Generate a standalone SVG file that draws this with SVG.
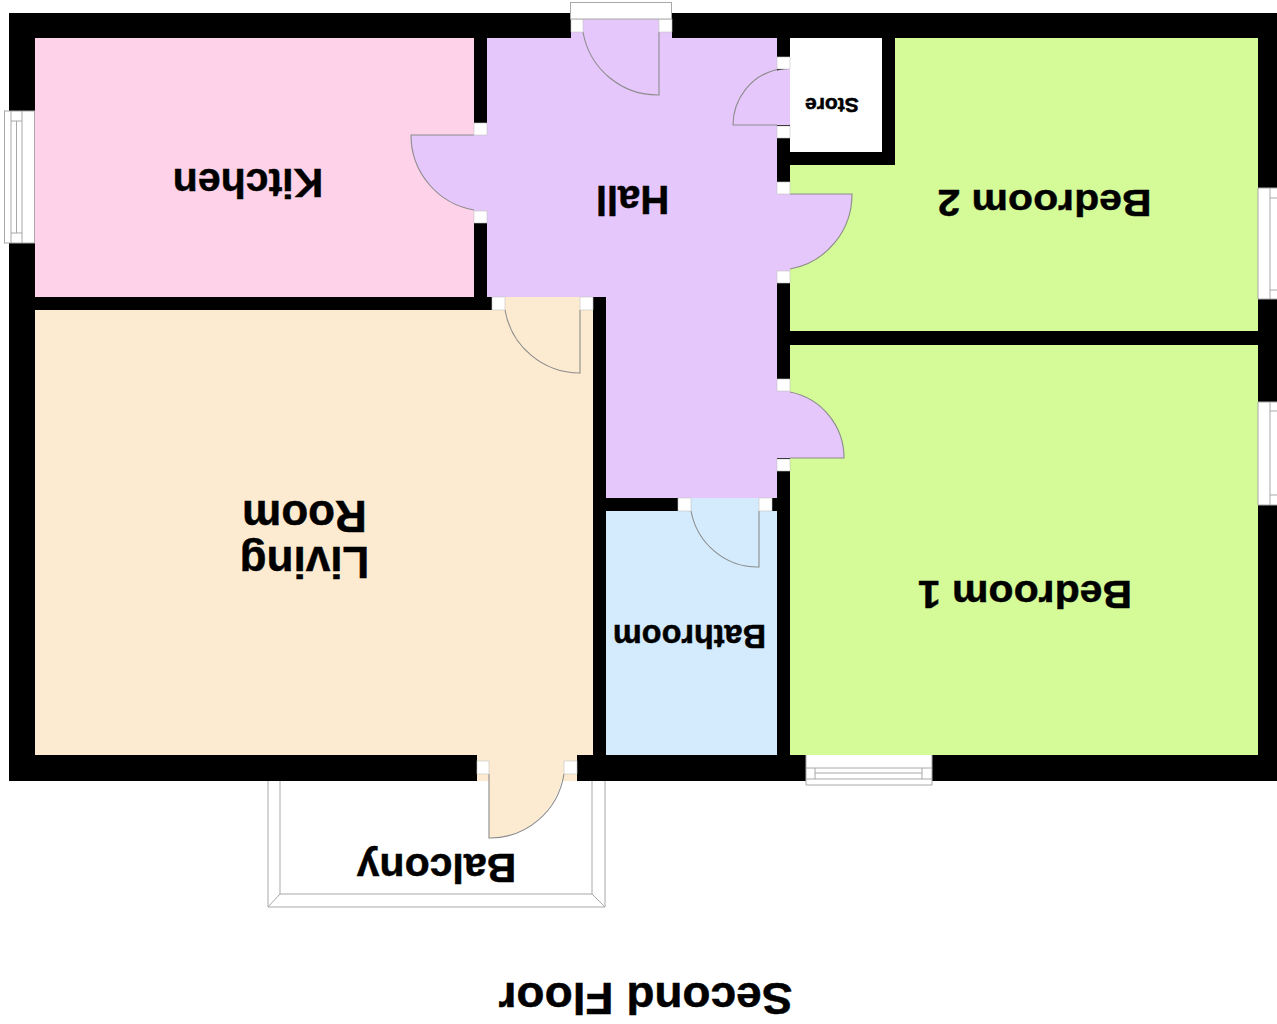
<svg xmlns="http://www.w3.org/2000/svg" width="1277" height="1024" viewBox="0 0 1277 1024">
<defs>
<style>
.wall{fill:#000}
.kitchen{fill:#fed3e9}
.living{fill:#fdebd1}
.hall{fill:#e6c7fb}
.bath{fill:#d3ebfc}
.bed{fill:#d4fb98}
.store{fill:#fff}
.door{fill:none;stroke:#8c8c8c;stroke-width:1.1}
.jamb{fill:#fff;stroke:#c4c4c4;stroke-width:.6}
.win{fill:#fff;stroke:#a8a8a8;stroke-width:1}
.ln{fill:none;stroke:#a8a8a8;stroke-width:1}
text{font-family:"Liberation Sans",Arial,sans-serif;font-weight:700;fill:#000;stroke:#000;stroke-width:.5;text-anchor:middle}
</style>
</defs>
<rect width="1277" height="1024" fill="#fff"/>
<g id="balcony">
<path class="ln" d="M268 781V907H605V781M280 781V894H592V781M268 907L280 894M605 907L592 894"/>
</g>
<rect id="walls" class="wall" x="9" y="13" width="1268" height="768"/>
<g id="kitchen"><rect class="kitchen" x="35" y="38" width="439" height="259"/></g>
<g id="living-room">
<rect class="living" x="35" y="310" width="558" height="445"/>
<path class="living" d="M505 297H580V373A76 76 0 0 1 505 310Z"/>
<path class="door" d="M580 310V373A76 76 0 0 1 505 310"/>
<path class="living" d="M477 755H577V781H477Z"/>
<path class="living" d="M489 755V838A75 76 0 0 0 564 762V755Z"/>
<path class="door" d="M489 774V838A75 76 0 0 0 564 774"/>
</g>
<g id="bathroom">
<rect class="bath" x="606" y="511" width="171" height="244"/>
<path class="bath" d="M691 498H759V567A68 69 0 0 1 691 511Z"/>
<path class="door" d="M759 511V567A68 69 0 0 1 691 511"/>
</g>
<g id="bedroom-2">
<path class="bed" d="M895 38H1258V331H790V165H895Z"/>
</g>
<g id="bedroom-1">
<rect class="bed" x="790" y="345" width="468" height="410"/>
</g>
<g id="store"><rect class="store" x="790" y="38" width="92" height="114"/></g>
<g id="hall">
<path class="hall" d="M487 38H777V498H606V297H487Z"/>
<rect class="hall" x="571" y="19" width="101" height="20"/>
<path class="hall" d="M659 19V95A76 76 0 0 1 583 19Z"/>
<path class="door" d="M659 32V95A76 76 0 0 1 583 32"/>
<path class="hall" d="M488 135H411A76 76 0 0 0 474 210V211H488Z"/>
<path class="door" d="M474 135H411A76 76 0 0 0 474 210"/>
<path class="hall" d="M790 125H733A57 57 0 0 1 790 69Z"/>
<path class="door" d="M777 125H733A57 57 0 0 1 777 69.500"/>
<path class="hall" d="M776 194H852A75 76 0 0 1 790 269V271H776Z"/>
<path class="door" d="M790 194H852A75 76 0 0 1 790 269"/>
<path class="hall" d="M776 458H844A67 67 0 0 0 790 392V391H776Z"/>
<path class="door" d="M790 458H844A67 67 0 0 0 790 392"/>
</g>
<g id="door-jambs">
<rect class="jamb" x="571" y="19" width="12" height="13"/>
<rect class="jamb" x="659" y="19" width="13" height="13"/>
<rect class="jamb" x="474" y="123" width="13" height="12"/>
<rect class="jamb" x="474" y="211" width="13" height="12"/>
<rect class="jamb" x="777" y="57" width="13" height="12"/>
<rect class="jamb" x="777" y="126" width="13" height="12"/>
<rect class="jamb" x="777" y="182" width="13" height="12"/>
<rect class="jamb" x="777" y="271" width="13" height="12"/>
<rect class="jamb" x="777" y="379" width="13" height="12"/>
<rect class="jamb" x="777" y="459" width="13" height="12"/>
<rect class="jamb" x="492" y="297" width="13" height="13"/>
<rect class="jamb" x="580" y="297" width="13" height="13"/>
<rect class="jamb" x="678" y="498" width="13" height="13"/>
<rect class="jamb" x="759" y="498" width="13" height="13"/>
<rect class="jamb" x="477" y="761" width="12" height="13"/>
<rect class="jamb" x="564" y="761" width="13" height="13"/>
</g>
<g id="windows">
<rect class="win" x="570.500" y="2.500" width="101" height="16.500"/>
<rect class="win" x="4.500" y="111" width="30" height="132"/>
<path class="ln" d="M11 111V243M22 111V243M16.500 121V233M11 121H22M11 233H22"/>
<path fill="#fff" d="M1258 188H1277V299H1258ZM1258 402H1277V505H1258Z"/>
<path class="ln" d="M1258 188H1277M1258 299H1277M1258 188V299M1270 188V299M1270 198H1277M1270 290H1277M1258 402H1277M1258 505H1277M1258 402V505M1270 402V505M1270 411H1277M1270 495H1277"/>
<path fill="#fff" d="M806 755H932V785H806Z"/>
<path class="ln" d="M806 755V785H932V755M806 768H932M815 773H922M806 779H932M815 768V779M922 768V779"/>
</g>
<g id="labels">
<text font-size="41" transform="translate(248 168.500) rotate(180)">Kitchen</text>
<text font-size="40" transform="translate(632.500 185.500) rotate(180)">Hall</text>
<text font-size="21" transform="translate(832 97.500) rotate(180)">Store</text>
<text font-size="41" transform="translate(1044.500 190) rotate(180) scale(1 .92)">Bedroom 2</text>
<text font-size="41" transform="translate(1025 580.500) rotate(180) scale(1 .95)">Bedroom 1</text>
<text font-size="44" transform="translate(304.500 547) rotate(180)">Living</text>
<text font-size="44" transform="translate(304.500 501) rotate(180)">Room</text>
<text font-size="32.400" transform="translate(689.500 625) rotate(180)">Bathroom</text>
<text font-size="41" transform="translate(436.500 853.500) rotate(180)">Balcony</text>
<text font-size="46" transform="translate(645.500 983) rotate(180) scale(1 .95)">Second Floor</text>
</g>
</svg>
